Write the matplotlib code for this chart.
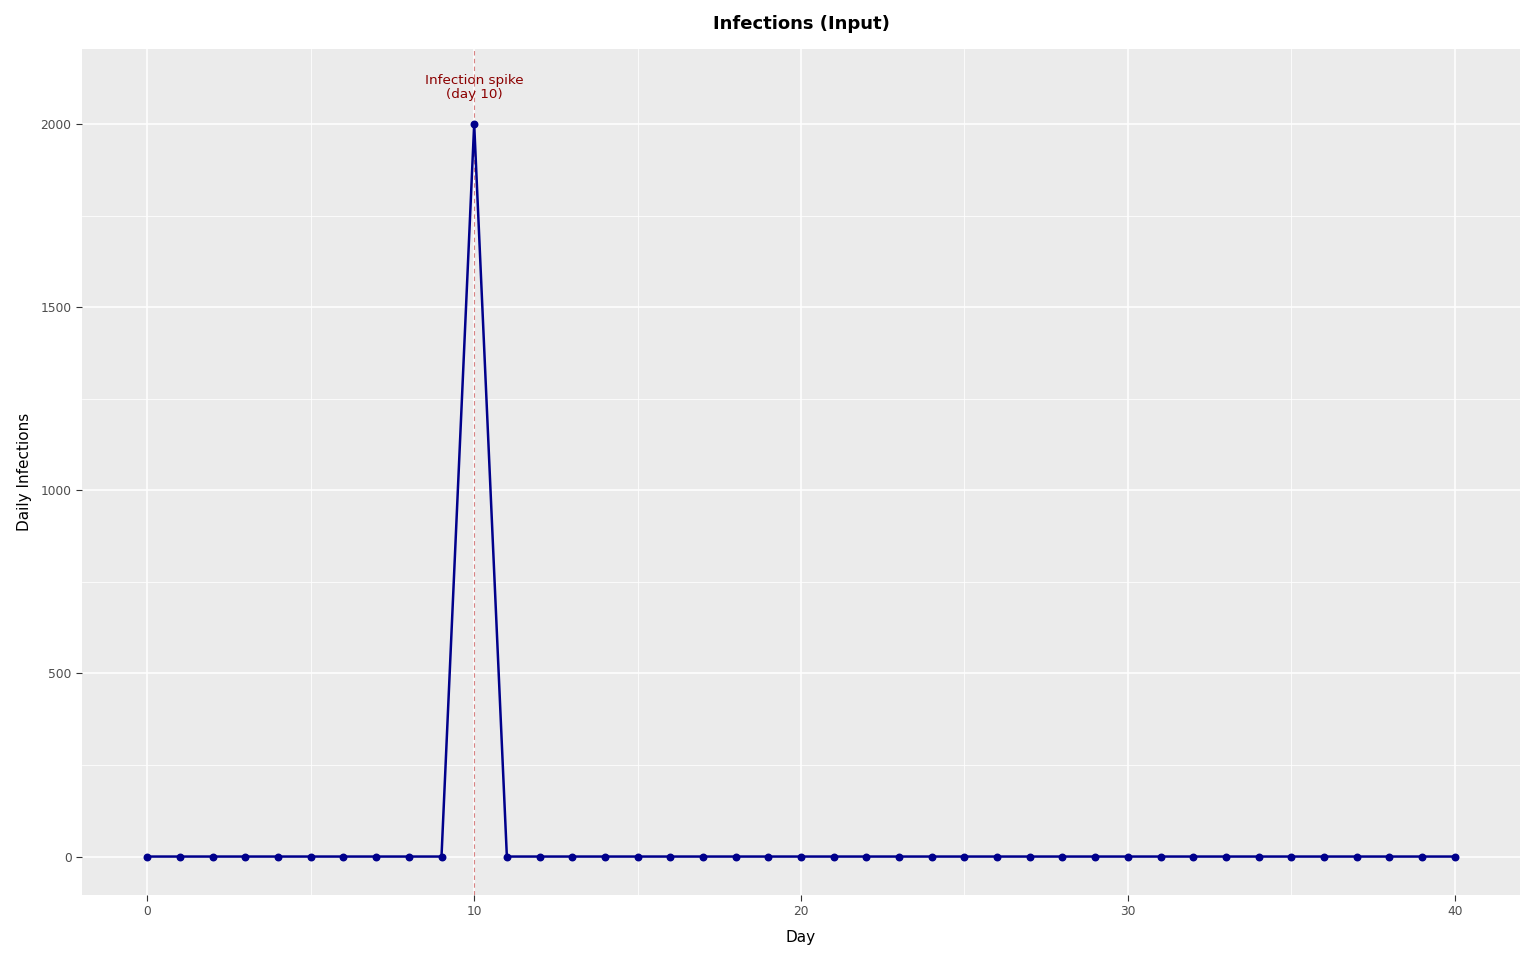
import matplotlib
matplotlib.use("Agg")
import matplotlib.pyplot as plt
import numpy as np

days = list(range(0, 41))
infections = [0]*10 + [2000] + [0]*30
spike_day = 10
spike_label = "Infection spike\n(day 10)"
xticks = [0, 10, 20, 30, 40]
yticks = [0, 500, 1000, 1500, 2000]

fig = plt.figure(figsize=(15.36, 9.6), dpi=100)
ax = fig.add_axes([82/1536, 1-895/960, (1520-82)/1536, (895-49)/960])
ax.set_facecolor("#EBEBEB")
for s in ax.spines.values():
    s.set_visible(False)

ax.set_xlim(-2, 42)
ax.set_ylim(-105, 2205)
ax.set_xticks(xticks)
ax.set_yticks(yticks)
ax.set_xticks([5, 15, 25, 35], minor=True)
ax.set_yticks([250, 750, 1250, 1750], minor=True)
ax.grid(which="major", color="white", linewidth=1.1)
ax.grid(which="minor", color="white", linewidth=0.55)
ax.set_axisbelow(True)
ax.tick_params(which="major", length=4, color="#333333", labelcolor="#4D4D4D", labelsize=8.8, width=0.8)
ax.tick_params(which="minor", length=0)

ax.axvline(spike_day, color="#CD5C5C", linestyle=(0, (4, 3)), linewidth=0.8, alpha=0.75, zorder=2)
ax.plot(days, infections, color="#00008B", linewidth=1.8, zorder=3)
ax.scatter(days, infections, color="#00008B", s=22, zorder=4)
ax.text(spike_day, 2100, spike_label, ha="center", va="center", color="#8B0000", fontsize=9.7, linespacing=1.1)

ax.set_xlabel("Day", fontsize=11, labelpad=8)
ax.set_ylabel("Daily Infections", fontsize=11, labelpad=6)
fig.text((82+1520)/2/1536, 1-24/960, "Infections (Input)", ha="center", va="center", fontsize=13, fontweight="bold")

fig.savefig("out.png", dpi=100, facecolor="white")
